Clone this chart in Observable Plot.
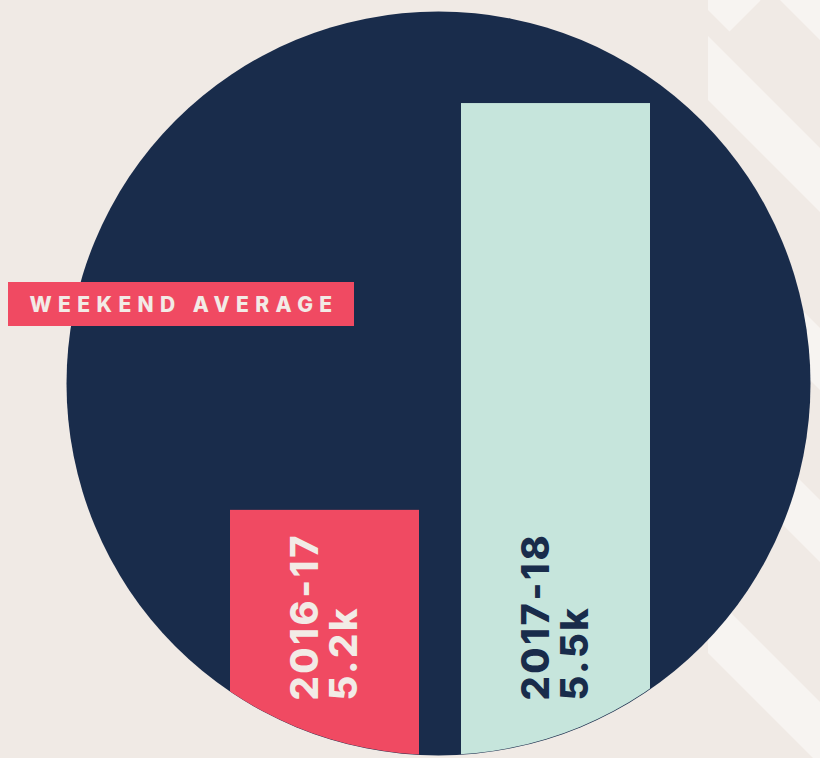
<!DOCTYPE html>
<html>
<head>
<meta charset="utf-8">
<script src="https://cdn.jsdelivr.net/npm/d3@7"></script>
<script src="https://cdn.jsdelivr.net/npm/@observablehq/plot@0.6"></script>
<style>
  html, body { margin: 0; padding: 0; background: #f0eae5; }
  #wrap { position: relative; width: 820px; height: 758px; overflow: hidden; }
  #tag {
    position: absolute; left: 8px; top: 282px; width: 346px; height: 44px;
    background: #f04a62; color: #f2ebe6;
    font-family: Inter, "Open Sans", sans-serif; font-weight: 800; font-size: 21px;
    letter-spacing: 6.4px; line-height: 45px; text-align: center;
    padding-left: 6px; box-sizing: border-box; white-space: nowrap;
  }
</style>
</head>
<body>
<div id="wrap"><div id="tag"></div></div>
<script>
// ---- data ----
const seasons = ["2016-17", "2017-18"];
const averages = [5200, 5500];
const valueLabels = ["5.2k", "5.5k"];
const legendLabel = "WEEKEND AVERAGE";

// ---- style constants ----
const BG = "#f0eae5", NAVY = "#192c4b", RED = "#f04a62", MINT = "#c6e5dc", LIGHT = "#f2ebe6", STRIPE = "#f7f4f1";
const barColors = [RED, MINT];
const labelColors = [LIGHT, NAVY];
const yDomain = [5017, 5576];

const data = seasons.map((s, i) => ({season: s, value: averages[i], label: valueLabels[i]}));

const W = 820, H = 758;
const plot = Plot.plot({
  width: W, height: H,
  margin: 0,
  style: {background: BG, fontFamily: "Inter, 'Open Sans', sans-serif", overflow: "hidden"},
  x: {domain: seasons, range: [229, 651], paddingInner: 0.181, paddingOuter: 0, axis: null},
  y: {domain: yDomain, range: [H, 0], axis: null},
  color: {domain: seasons, range: barColors},
  marks: [
    Plot.dot([0], {frameAnchor: "middle", r: 372, fill: NAVY, dx: 28, dy: 4}),
    Plot.barY(data, {x: "season", y1: () => yDomain[0], y2: "value", fill: "season", inset: 0}),
    ...seasons.map((s, i) => Plot.text(data, {
      filter: d => d.season === s,
      x: "season",
      text: d => `${d.season}\n${d.label}`,
      frameAnchor: "bottom", dy: -58,
      rotate: -90, textAnchor: "start", lineAnchor: "middle",
      lineHeight: 1.02,
      fontSize: 38, fontWeight: 800, fill: labelColors[i]
    }))
  ]
});

// letter spacing for the rotated bar labels
plot.querySelectorAll("g[aria-label='text'] text").forEach(t => t.style.letterSpacing = "2.6px");

// decorative background stripes (behind the circle), clipped to x >= 708
const ns = "http://www.w3.org/2000/svg";
const deco = document.createElementNS(ns, "g");
const stripes = [[780, 845], [608, 672], [430, 492], [258, 320], [55, 118]];
const x0 = 708, x1 = W;
for (const [c1, c2] of stripes) {
  const p = document.createElementNS(ns, "polygon");
  p.setAttribute("points", `${x0},${x0 - c2} ${x1},${x1 - c2} ${x1},${x1 - c1} ${x0},${x0 - c1}`);
  p.setAttribute("fill", STRIPE);
  deco.appendChild(p);
}
{ // short capped stripe in the top corner
  const p = document.createElementNS(ns, "polygon");
  p.setAttribute("points", `708,-52 760.5,0.5 729.5,31.5 708,10`);
  p.setAttribute("fill", STRIPE);
  deco.appendChild(p);
}
const firstMark = plot.querySelector("g[aria-label='dot']");
plot.insertBefore(deco, firstMark);

// clip bars to the circle
const defs = document.createElementNS(ns, "defs");
defs.innerHTML = `<clipPath id="circ"><circle cx="438" cy="383" r="372"></circle></clipPath>`;
plot.insertBefore(defs, plot.firstChild);
const bars = plot.querySelector("g[aria-label='bar']");
if (bars) bars.setAttribute("clip-path", "url(#circ)");

const wrap = document.getElementById("wrap");
wrap.insertBefore(plot, wrap.firstChild);
document.getElementById("tag").textContent = legendLabel;
</script>
</body>
</html>
